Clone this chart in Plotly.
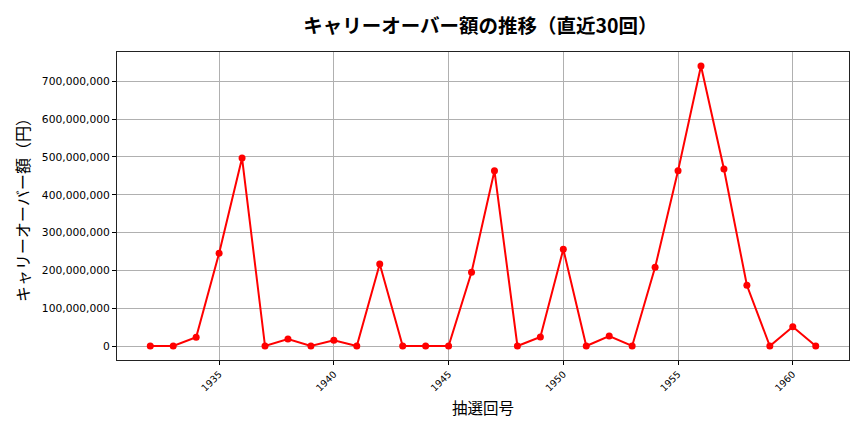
import plotly.graph_objects as go

draws = list(range(1932, 1962))
carryover = [0, 0, 23000000, 245500000, 497000000, 0, 18500000, 0, 15000000, 0,
             217000000, 0, 0, 0, 195000000, 463500000, 0, 24000000, 256000000, 0,
             26500000, 0, 208000000, 463500000, 740600000, 468000000, 160700000, 0, 51000000, 0]
x_ticks = [1935, 1940, 1945, 1950, 1955, 1960]
y_ticks = [0, 100000000, 200000000, 300000000, 400000000, 500000000, 600000000, 700000000]

FONT = "Noto Sans CJK JP"
TICKFONT = "DejaVu Sans"

fig = go.Figure()
fig.add_trace(go.Scatter(
    x=draws, y=carryover, mode="lines+markers",
    line=dict(color="#ff0000", width=2),
    marker=dict(color="#ff0000", size=7),
    showlegend=False,
))

fig.update_layout(
    width=864, height=432,
    margin=dict(l=117, r=15, t=52, b=72),
    paper_bgcolor="white", plot_bgcolor="white",
    font=dict(family=FONT, color="black"),
    title=dict(text="<b>キャリーオーバー額の推移（直近30回）</b>", x=0.556, xanchor="center",
               y=0.939, yanchor="middle", font=dict(family=FONT, size=19.5, color="black")),
)
fig.update_xaxes(
    range=[1930.55, 1962.45], tickvals=x_ticks, ticktext=[str(t) for t in x_ticks],
    tickangle=-45, tickfont=dict(family=TICKFONT, size=9.5), ticks="outside", ticklen=4, tickcolor="black",
    showgrid=True, gridcolor="#b0b0b0", gridwidth=0.8,
    showline=True, linecolor="#222", linewidth=1, mirror=True, zeroline=False,
    title=dict(text="抽選回号", font=dict(size=15.5), standoff=10),
)
fig.update_yaxes(
    range=[-37030000, 777630000], tickvals=y_ticks, tickformat=",d",
    tickfont=dict(family=TICKFONT, size=10.7), ticks="outside", ticklen=4, tickcolor="black",
    showgrid=True, gridcolor="#b0b0b0", gridwidth=0.8,
    showline=True, linecolor="#222", linewidth=1, mirror=True, zeroline=False,
    title=dict(text="キャリーオーバー額（円）", font=dict(size=16), standoff=8),
)

fig.write_html("out.html")
